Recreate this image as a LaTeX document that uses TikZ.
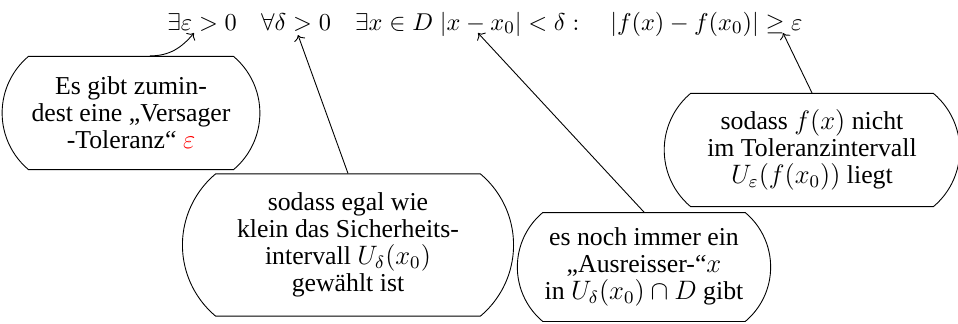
\documentclass[tikz,border=0pt]{standalone}
\usepackage{fontspec}
\setmainfont{Liberation Serif}
\usepackage{xcolor}
\usetikzlibrary{shapes.misc, arrows.meta, positioning, calc}

\begin{document}
\begin{tikzpicture}[
  x=0.45pt, y=-0.45pt,
  bubble/.style={rounded rectangle, rounded rectangle arc length=100, draw, align=center, inner xsep=-20pt, inner ysep=2pt, font=\fontsize{11.6}{12.2}\selectfont},
  arrow/.style={->, >=To},
]
  \useasboundingbox (0,0) rectangle (958,323);

  \node[anchor=base, font=\fontsize{10.9}{13}\selectfont] (formula) at (485,30) {$\exists\varepsilon>0\quad\forall\delta>0\quad\exists x\in D\;|x-x_0|<\delta:\quad|f(x)-f(x_0)|\geq\varepsilon$};

  \coordinate (epsgt) at (194,33);
  \coordinate (deltagt) at (298,35);
  \coordinate (minus) at (478,33);
  \coordinate (geq) at (783,33);

  \node[bubble, minimum width=76pt, minimum height=51pt] (versager) at (131,113) {Es gibt zumin-\\dest eine „Versager\\-Toleranz“ {\color{red}$\varepsilon$}};
  \node[bubble, minimum width=109pt, minimum height=64pt] (sicherheit) at (348,245) {sodass egal wie\\klein das Sicherheits-\\intervall $U_\delta(x_0)$\\gewählt ist};
  \node[bubble, minimum width=74pt, minimum height=49pt] (ausreisser) at (644,267) {es noch immer ein\\„Ausreisser-“$x$\\in $U_\delta(x_0)\cap D$ gibt};
  \node[bubble, minimum width=93pt, minimum height=51pt] (toleranz) at (812,150) {sodass $f(x)$ nicht\\im Toleranzintervall\\$U_\varepsilon(f(x_0))$ liegt};

  \draw[arrow] ($(versager.north)+(19,0)$) to[out=0, in=-130] (epsgt);
  \draw[arrow] (sicherheit.north) -- (deltagt);
  \draw[arrow] (ausreisser.north) -- (minus);
  \draw[arrow] (toleranz.north) -- (geq);

\end{tikzpicture}
\end{document}
